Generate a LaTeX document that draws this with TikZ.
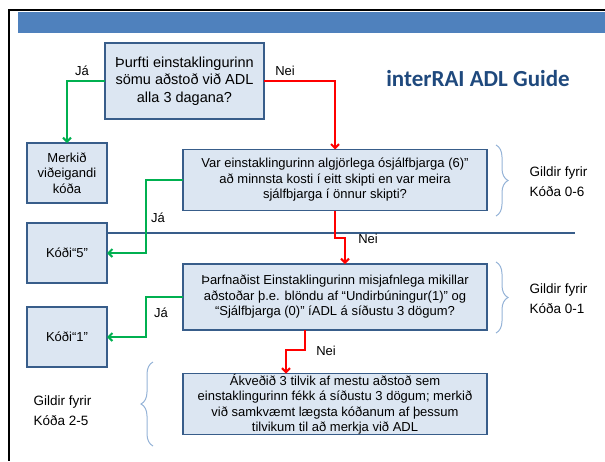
\documentclass[tikz,border=0pt]{standalone}
\usepackage{fontspec}
\setmainfont{Liberation Sans}
\newfontfamily\titlefont{Carlito}
\usetikzlibrary{arrows.meta,decorations.pathreplacing}
\definecolor{boxfill}{HTML}{DCE6F2}
\definecolor{boxline}{HTML}{385D8A}
\definecolor{bandblue}{HTML}{4F81BD}
\definecolor{jagreen}{HTML}{00B050}
\definecolor{neired}{HTML}{FF0000}
\definecolor{titleblue}{HTML}{1F497D}
\definecolor{bracecol}{HTML}{95B3D7}

\begin{document}
\begin{tikzpicture}[x=1pt,y=-1pt,
  qbox/.style={draw=boxline, line width=1.6pt, fill=boxfill, inner sep=0pt, outer sep=0pt,
    align=center, font=\fontsize{13}{15.5}\selectfont},
  yes/.style={draw=jagreen, line width=2pt, -{Straight Barb[length=4pt,width=8pt]}},
  no/.style={draw=neired, line width=2pt, -{Straight Barb[length=4pt,width=8pt]}},
  lbl/.style={font=\fontsize{13}{15}\selectfont},
  gildir/.style={align=left, font=\fontsize{13.5}{20}\selectfont},
  gbrace/.style={draw=bracecol, line width=1pt, decorate,
    decoration={brace, amplitude=12pt}}]
\useasboundingbox (0,0) rectangle (605,461);

% frame and band
\fill[bandblue] (18,12) rectangle (605,33);
\draw[line width=2pt] (605,10) -- (9,10) -- (9,461);

\node[font=\titlefont\bfseries\fontsize{23}{26}\selectfont, text=titleblue] (title) at (478,79) {interRAI ADL Guide};

% questions
\node[qbox, minimum width=159pt, minimum height=76pt, font=\fontsize{14.5}{17.5}\selectfont] (q1) at (184.5,81)
  {Þurfti einstaklingurinn\\sömu aðstoð við ADL\\alla 3 dagana?};
\node[qbox, minimum width=304pt, minimum height=61pt] (q2) at (335,180)
  {Var einstaklingurinn algjörlega ósjálfbjarga (6)”\\að minnsta kosti í eitt skipti en var meira\\sjálfbjarga í önnur skipti?};
\node[qbox, minimum width=304pt, minimum height=66pt] (q3) at (335,297)
  {Þarfnaðist Einstaklingurinn misjafnlega mikillar\\aðstoðar þ.e. blöndu af “Undirbúningur(1)” og\\“Sjálfbjarga (0)” íADL á síðustu 3 dögum?};
\node[qbox, minimum width=304pt, minimum height=61pt] (q4) at (335,404)
  {Ákveðið 3 tilvik af mestu aðstoð sem\\einstaklingurinn fékk á síðustu 3 dögum; merkið\\við samkvæmt lægsta kóðanum af þessum\\tilvikum til að merkja við ADL};

% answers
\node[qbox, minimum width=80pt, minimum height=60pt] (merk) at (67,173) {Merkið\\viðeigandi\\kóða};
\node[qbox, minimum width=80pt, minimum height=60pt] (k5) at (67,253) {Kóði“5”};
\node[qbox, minimum width=80pt, minimum height=60pt] (k1) at (67,337) {Kóði“1”};

\draw[boxline, line width=1.2pt] (k5.east |- 0,233) -- (575,233);

% connectors
\draw[yes] (q1.west) -| (merk.north);
\draw[no] (q1.east) -| (q2.north);
\draw[yes] (q2.west) -- ++(-37,0) |- (k5.east);
\draw[no] (q2.south) -- ++(0,27) -| ([xshift=10pt]q3.north);
\draw[yes] (q3.west) -- ++(-37,0) |- (k1.east);
\draw[no] ([xshift=-30pt]q3.south) -- ++(0,20) -| ([xshift=-49pt]q4.north);

\node[lbl] (ja1) at (82,71) {Já};
\node[lbl] (nei1) at (285,71) {Nei};
\node[lbl] (ja2) at (158,218) {Já};
\node[lbl] (nei2) at (368,239) {Nei};
\node[lbl] (ja3) at (161,313) {Já};
\node[lbl] (nei3) at (326,351) {Nei};

% braces
\draw[gbrace] (496,145) -- (496,216);
\draw[gbrace] (496,262) -- (496,333);
\draw[gbrace] (153,446) -- (153,362);
\node[gildir, anchor=west] (g06) at (526,182) {Gildir fyrir\\Kóða 0-6};
\node[gildir, anchor=west] (g01) at (526,299) {Gildir fyrir\\Kóða 0-1};
\node[gildir, anchor=west] (g25) at (30,411) {Gildir fyrir\\Kóða 2-5};
\end{tikzpicture}
\end{document}
